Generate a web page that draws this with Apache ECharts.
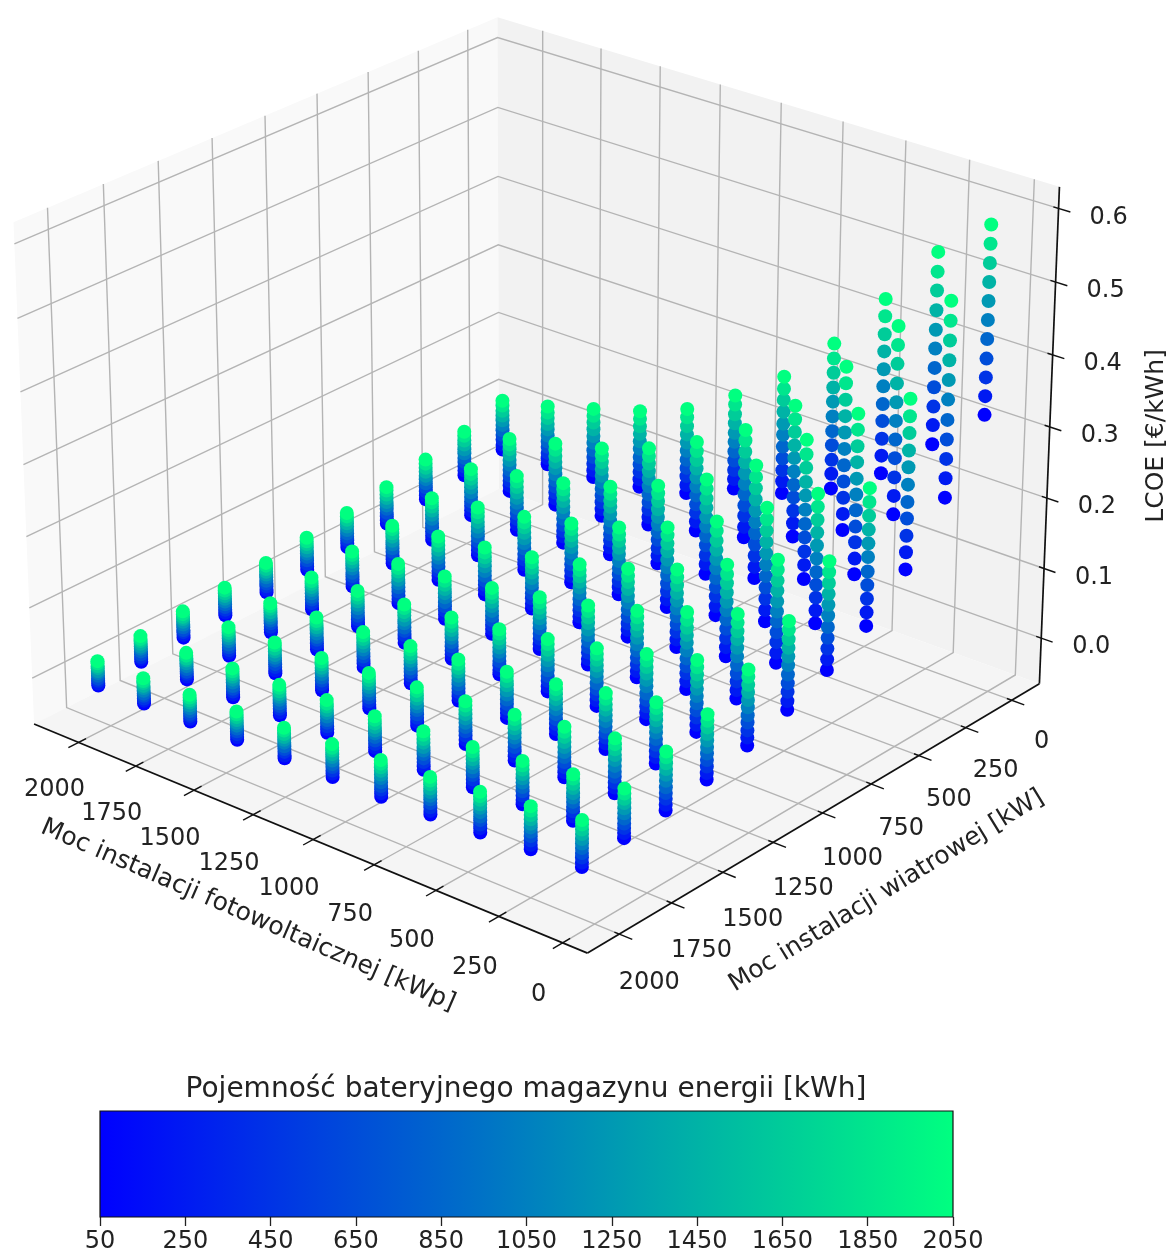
<!DOCTYPE html>
<html><head><meta charset="utf-8">
<style>html,body{margin:0;padding:0;background:#fff}#c{width:1174px;height:1260px;filter:blur(0.5px)}</style>
<script src="https://cdn.jsdelivr.net/npm/echarts@6/dist/echarts.min.js"></script>
</head><body><div id="c"></div>
<script>
// Axis values
const pvValues = [50,250,450,650,850,1050,1250,1450,1650,1850,2050];
const windValues = [0,200,400,600,800,1000,1200,1400,1600,1800,2000];
const batteryValues = [50,250,450,650,850,1050,1250,1450,1650,1850,2050];
const pvTicks = [0,250,500,750,1000,1250,1500,1750,2000];
const windTicks = [0,250,500,750,1000,1250,1500,1750,2000];
const lcoeTicks = [0,0.1,0.2,0.3,0.4,0.5,0.6];
const colorbarTicks = [50,250,450,650,850,1050,1250,1450,1650,1850,2050];
// LCOE, in thousandths of EUR/kWh: row = wind value, column = battery value
const lcoePv50 = [[321,347,373,399,426,452,478,504,530,556,582],[234,261,288,315,342,370,397,424,451,478,505],[163,187,210,234,257,281,305,328,352,375,399],[114,133,152,171,190,210,229,248,267,286,305],[83,98,113,128,143,159,174,189,204,219,234],[59,71,84,96,108,121,133,145,157,170,182],[41,52,62,73,83,94,104,115,125,136,146],[26,35,44,53,62,71,80,89,98,107,116],[16,24,32,40,48,57,65,73,81,89,97],[11,18,25,31,38,45,52,59,65,72,79],[5,11,18,24,31,37,43,50,56,63,69]];
const lcoePv250 = [[256,283,309,336,363,390,416,443,470,496,523],[186,212,238,265,291,317,343,369,396,422,448],[131,153,176,198,221,243,265,288,310,333,355],[92,110,128,146,164,183,201,219,237,255,273],[67,81,96,110,125,139,153,168,182,197,211],[48,60,72,83,95,107,119,131,142,154,166],[33,43,53,63,73,83,93,103,113,123,133],[21,30,38,47,55,64,72,81,89,98,106],[12,20,27,35,42,50,58,65,73,80,88],[7,13,20,26,33,39,45,52,58,65,71],[1,7,13,19,25,31,36,42,48,54,60]];
const lcoePv450 = [[191,216,240,265,289,314,338,363,387,412,436],[139,162,185,208,231,254,277,300,323,346,369],[99,119,138,158,177,197,217,236,256,275,295],[69,85,101,117,133,149,165,181,197,213,229],[50,63,76,89,102,115,127,140,153,166,179],[35,46,57,67,78,89,100,111,121,132,143],[24,33,42,51,60,70,79,88,97,106,115],[14,22,30,37,45,53,61,69,76,84,92],[7,14,21,28,35,42,49,56,63,70,77],[2,8,14,20,26,32,38,44,50,56,62],[-4,2,7,13,18,24,30,35,41,46,52]];
const lcoePv650 = [[145,166,186,207,227,248,269,289,310,330,351],[105,124,142,161,179,198,217,235,254,272,291],[75,91,107,123,139,155,171,187,203,219,235],[52,65,79,92,105,119,132,145,158,172,185],[37,48,59,70,81,92,103,114,125,136,147],[25,34,44,53,63,72,81,91,100,110,119],[16,24,32,40,48,57,65,73,81,89,97],[8,15,22,29,36,43,50,57,64,71,78],[3,9,16,22,29,35,41,48,54,61,67],[-2,4,9,15,20,26,32,37,43,48,54],[-7,-2,3,9,14,19,24,29,35,40,45]];
const lcoePv850 = [[114,131,147,164,181,198,214,231,248,264,281],[79,94,110,125,141,156,171,187,202,218,233],[56,70,83,97,110,124,137,151,164,178,191],[38,49,61,72,84,95,106,118,129,141,152],[26,36,45,55,65,75,84,94,104,113,123],[17,25,34,42,51,59,67,76,84,93,101],[10,17,25,32,40,47,54,62,69,77,84],[4,11,17,24,30,37,43,50,56,63,69],[-1,5,11,17,23,29,35,41,47,53,59],[-5,0,6,11,17,22,27,33,38,44,49],[-10,-5,0,5,10,16,21,26,31,36,41]];
const lcoePv1050 = [[96,110,123,137,150,164,177,191,204,218,231],[64,77,90,102,115,128,141,154,166,179,192],[46,57,68,80,91,102,113,124,136,147,158],[31,41,50,60,69,79,89,98,108,117,127],[21,29,38,46,54,63,71,79,87,96,104],[13,20,28,35,43,50,57,65,72,80,87],[8,14,21,27,34,40,46,53,59,66,72],[2,8,14,19,25,31,37,43,48,54,60],[-2,3,9,14,20,25,30,36,41,47,52],[-6,-1,4,9,14,19,23,28,33,38,43],[-10,-5,-1,4,8,13,18,22,27,31,36]];
const lcoePv1250 = [[65,77,90,102,114,127,139,151,163,176,188],[48,59,70,81,92,104,115,126,137,148,159],[34,44,54,63,73,83,93,103,112,122,132],[23,32,40,49,57,66,74,83,91,100,108],[15,22,30,37,45,52,59,67,74,82,89],[9,16,22,29,35,42,49,55,62,68,75],[4,10,16,22,28,34,39,45,51,57,63],[0,5,11,16,21,27,32,37,42,48,53],[-4,1,6,11,16,21,26,31,36,41,46],[-7,-2,2,7,11,16,21,25,30,34,39],[-11,-7,-2,2,6,11,15,19,23,28,32]];
const lcoePv1450 = [[50,61,72,83,94,106,117,128,139,150,161],[36,46,56,66,76,86,95,105,115,125,135],[26,35,43,52,61,70,78,87,96,104,113],[16,24,31,39,47,55,62,70,78,85,93],[10,17,24,30,37,44,51,58,64,71,78],[5,11,17,23,29,36,42,48,54,60,66],[1,7,12,18,23,29,34,40,45,51,56],[-3,2,7,12,17,22,27,32,37,42,47],[-5,0,4,9,13,18,23,27,32,36,41],[-9,-5,0,4,8,13,17,21,25,30,34],[-12,-8,-4,0,4,8,12,16,20,24,28]];
const lcoePv1650 = [[40,50,60,70,80,91,101,111,121,131,141],[28,37,46,55,64,73,82,91,100,109,118],[20,28,36,44,52,60,67,75,83,91,99],[12,19,26,33,40,47,54,61,68,75,82],[6,12,19,25,31,38,44,50,56,63,69],[2,8,13,19,25,31,36,42,48,53,59],[-1,4,9,14,19,25,30,35,40,45,50],[-4,1,5,10,14,19,24,28,33,37,42],[-7,-3,2,6,11,15,19,24,28,33,37],[-10,-6,-2,2,6,11,15,19,23,27,31],[-13,-9,-5,-2,2,6,10,14,17,21,25]];
const lcoePv1850 = [[35,44,52,61,69,78,87,95,104,112,121],[24,32,39,47,55,63,70,78,86,93,101],[17,24,31,37,44,51,58,65,71,78,85],[10,16,22,28,34,41,47,53,59,65,71],[5,11,16,22,27,33,38,44,49,55,60],[1,6,11,16,21,27,32,37,42,47,52],[-2,3,7,12,16,21,26,30,35,39,44],[-5,-1,3,8,12,16,20,24,29,33,37],[-8,-4,0,4,8,13,17,21,25,29,33],[-11,-7,-3,0,4,8,12,16,19,23,27],[-14,-10,-7,-3,0,4,8,11,15,18,22]];
const lcoePv2050 = [[33,40,48,55,62,70,77,84,91,99,106],[23,30,36,43,49,56,62,69,75,82,88],[16,22,28,34,40,46,51,57,63,69,75],[9,14,20,25,31,36,41,47,52,58,63],[4,9,14,19,24,29,34,39,44,49,54],[0,5,9,14,19,24,28,33,38,42,47],[-3,1,6,10,14,19,23,27,31,36,40],[-6,-2,2,6,10,14,18,22,26,30,34],[-8,-4,0,3,7,11,15,19,22,26,30],[-12,-8,-5,-1,3,7,10,14,18,21,25],[-15,-12,-8,-5,-1,3,6,10,13,17,20]];
const lcoeTables = [lcoePv50,lcoePv250,lcoePv450,lcoePv650,lcoePv850,lcoePv1050,lcoePv1250,lcoePv1450,lcoePv1650,lcoePv1850,lcoePv2050];

const pvLabel = 'Moc instalacji fotowoltaicznej [kWp]';
const windLabel = 'Moc instalacji wiatrowej [kW]';
const lcoeLabel = 'LCOE [€/kWh]';
const colorbarTitle = 'Pojemność bateryjnego magazynu energii [kWh]';

// 3D view (perspective projection of the box onto the page)
const view = {az:130, el:25.5, dist:10, sx:6115, sy:6011, cx:540, cy:459, box:[1.19,1.19,0.92],
  xlim:[-96,2196], ylim:[-153,2150], zlim:[-0.066,0.629]};
const rad = Math.PI/180;
const ca=Math.cos(view.az*rad), sa=Math.sin(view.az*rad), ce=Math.cos(view.el*rad), se=Math.sin(view.el*rad);
function proj(x,y,z){
  const dx=((x-view.xlim[0])/(view.xlim[1]-view.xlim[0])-0.5)*view.box[0];
  const dy=((y-view.ylim[0])/(view.ylim[1]-view.ylim[0])-0.5)*view.box[1];
  const dz=((z-view.zlim[0])/(view.zlim[1]-view.zlim[0])-0.5)*view.box[2];
  const xv=-sa*dx+ca*dy;
  const yv=-se*ca*dx-se*sa*dy+ce*dz;
  const zv=ce*ca*dx+ce*sa*dy+se*dz;
  const k=view.dist-zv;
  return {px:view.cx+view.sx*xv/k, py:view.cy-view.sy*yv/k, depth:zv};
}
const P=(x,y,z)=>{const p=proj(x,y,z);return [p.px,p.py];};
const [x0,x1]=view.xlim,[y0,y1]=view.ylim,[z0,z1]=view.zlim;

// points, far ones first
const points=[];
pvValues.forEach((pv,i)=>windValues.forEach((w,j)=>batteryValues.forEach((b,k)=>{
  const p=proj(pv,w,lcoeTables[i][j][k]/1000);
  points.push({value:[p.px,p.py,b],d:p.depth});
})));
points.sort((a,b)=>a.d-b.d);

const FONT='"DejaVu Sans"', FS=24, LFS=25, TFS=28, TC='#222';
function backLayer(params,api){
  const c=p=>api.coord(p), ch=[];
  const poly=(pts,fill)=>ch.push({type:'polygon',shape:{points:pts.map(c)},style:{fill}});
  poly([P(x1,y0,z0),P(x1,y1,z0),P(x1,y1,z1),P(x1,y0,z1)],'#f9f9f9');
  poly([P(x0,y0,z0),P(x1,y0,z0),P(x1,y0,z1),P(x0,y0,z1)],'#f2f2f2');
  poly([P(x0,y0,z0),P(x1,y0,z0),P(x1,y1,z0),P(x0,y1,z0)],'#f5f5f5');
  const line=(pts,col,w)=>ch.push({type:'polyline',shape:{points:pts.map(c)},style:{fill:'none',stroke:col,lineWidth:w}});
  const G='#b4b4b4',GW=1.4;
  pvTicks.forEach(t=>line([P(t,y1,z0),P(t,y0,z0),P(t,y0,z1)],G,GW));
  windTicks.forEach(t=>line([P(x0,t,z0),P(x1,t,z0),P(x1,t,z1)],G,GW));
  lcoeTicks.forEach(t=>line([P(x1,y1,t),P(x1,y0,t),P(x0,y0,t)],G,GW));
  return {type:'group',children:ch};
}
function frontLayer(params,api){
  const c=p=>api.coord(p), ch=[];
  const line=(pts,w)=>ch.push({type:'polyline',shape:{points:pts.map(c)},style:{fill:'none',stroke:'#111',lineWidth:w}});
  const text=(str,p,dx,dy,rot,fs)=>{const q=c(p);ch.push({type:'text',x:q[0]+dx,y:q[1]+dy,rotation:(rot||0)*rad,
    style:{text:str,fontFamily:FONT,fontSize:fs||FS,fill:TC,align:'center',verticalAlign:'middle'}});};
  line([P(x0,y1,z0),P(x1,y1,z0)],1.7);
  line([P(x0,y0,z0),P(x0,y1,z0)],1.7);
  line([P(x0,y0,z0),P(x0,y0,z1)],1.7);
  pvTicks.forEach(t=>{line([P(t,y1-35,z0),P(t,y1+46,z0)],1.4);text(String(t),P(t,y1,z0),-24,52-0.0025*t);});
  windTicks.forEach(t=>{line([P(x0+19,t,z0),P(x0-50,t,z0)],1.4);text(String(t),P(x0,t,z0),30,42+0.0035*t);});
  lcoeTicks.forEach(t=>{line([P(x0+20,y0,t),P(x0-45,y0,t)],1.4);text(t.toFixed(1),P(x0,y0,t),50,9);});
  text(pvLabel,P(1000,y1,z0),-65,76,-23.4,LFS);
  text(windLabel,P(x0,1000,z0),64,78,31.5,LFS);
  text(lcoeLabel,P(x0,y0,0.3),107,9,90,LFS);
  return {type:'group',children:ch};
}
function colorbarRect(params,api){
  const a=api.coord([colorbarTicks[0],0]), b=api.coord([colorbarTicks[colorbarTicks.length-1],1]);
  return {type:'rect',shape:{x:a[0],y:b[1],width:b[0]-a[0],height:a[1]-b[1]},
    style:{fill:new echarts.graphic.LinearGradient(0,0,1,0,[{offset:0,color:'#0000ff'},{offset:1,color:'#00ff80'}]),stroke:'#111',lineWidth:1.2}};
}
const chart=echarts.init(document.getElementById('c'),null,{renderer:'canvas'});
chart.setOption({
  animation:false,backgroundColor:'#fff',tooltip:{show:false},
  title:{text:colorbarTitle,left:521,top:1071,textAlign:'center',textStyle:{fontFamily:FONT,fontSize:TFS,fontWeight:'normal',color:TC}},
  grid:[{left:0,top:0,width:1174,height:1260},{left:100,top:1111,width:853,height:106}],
  xAxis:[{gridIndex:0,type:'value',min:0,max:1174,show:false},
    {gridIndex:1,type:'value',min:50,max:2050,splitLine:{show:false},axisLine:{show:false},
     axisTick:{length:9,lineStyle:{color:'#222',width:1.3},customValues:colorbarTicks},
     axisLabel:{fontFamily:FONT,fontSize:FS,color:TC,margin:13,customValues:colorbarTicks,hideOverlap:false,showMinLabel:true,showMaxLabel:true,formatter:v=>String(v)}}],
  yAxis:[{gridIndex:0,type:'value',min:0,max:1260,inverse:true,show:false},
    {gridIndex:1,type:'value',min:0,max:1,show:false}],
  visualMap:[{show:false,type:'continuous',seriesIndex:1,dimension:2,min:50,max:2050,inRange:{color:['#0000ff','#00ff80']}}],
  series:[
    {type:'custom',xAxisIndex:0,yAxisIndex:0,renderItem:backLayer,data:[[0,0]],silent:true,clip:false,z:1},
    {type:'scatter',xAxisIndex:0,yAxisIndex:0,data:points,symbol:'circle',symbolSize:14,large:false,silent:true,z:2,progressive:0,itemStyle:{opacity:1}},
    {type:'custom',xAxisIndex:0,yAxisIndex:0,renderItem:frontLayer,data:[[0,0]],silent:true,clip:false,z:3},
    {type:'custom',xAxisIndex:1,yAxisIndex:1,renderItem:colorbarRect,data:[[0,0]],silent:true,clip:false,z:2}
  ]
});
</script></body></html>
